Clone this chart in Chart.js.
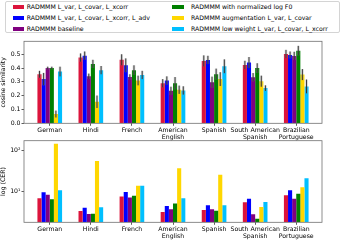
<!DOCTYPE html>
<html><head><meta charset="utf-8">
<script src="https://cdn.jsdelivr.net/npm/chart.js@4/dist/chart.umd.min.js"></script>
<style>
html,body{margin:0;padding:0;width:344px;height:240px;overflow:hidden;background:#fff;font-family:"DejaVu Sans";}
#legend{position:absolute;left:5px;top:1px;width:335px;height:32px;border:1px solid #d4d4d4;border-radius:2px;box-sizing:border-box;}
.lt{position:absolute;font-size:6.2px;line-height:8px;white-space:nowrap;color:#000;transform:translateY(-50%);}
.sw{position:absolute;width:11.5px;height:4px;transform:translateY(-50%);}
canvas{position:absolute;left:0;}
</style></head><body>
<div id="legend"></div>
<canvas id="c1" width="344" height="110" style="top:34px"></canvas>
<canvas id="c2" width="344" height="104" style="top:136px"></canvas>
<script>
const categories = ['German','Hindi','French',['American','English'],'Spanish',['South American','Spanish'],['Brazilian','Portuguese']];
const seriesLabels = ['RADMMM L_var, L_covar, L_xcorr','RADMMM L_var, L_covar, L_xcorr, L_adv','RADMMM baseline','RADMMM with normalized log F0','RADMMM augmentation L_var, L_covar','RADMMM low weight L_var, L_covar, L_xcorr'];
const seriesColors = ['#DC143C','#0000FF','#800080','#008000','#FFD700','#00BFFF'];

const cosRed    = [0.355,0.476,0.46,0.29,0.452,0.423,0.502];
const cosBlue   = [0.32,0.49,0.42,0.31,0.459,0.44,0.495];
const cosPurple = [0.40,0.34,0.335,0.235,0.298,0.334,0.488];
const cosGreen  = [0.40,0.43,0.385,0.29,0.356,0.40,0.526];
const cosYellow = [0.067,0.156,0.31,0.243,0.32,0.305,0.353];
const cosCyan   = [0.375,0.385,0.35,0.238,0.413,0.255,0.267];

const errRed    = [0.025,0.03,0.04,0.03,0.04,0.03,0.03];
const errBlue   = [0.045,0.03,0.05,0.03,0.03,0.04,0.025];
const errPurple = [0.01,0.02,0.02,0.03,0.04,0.03,0.03];
const errGreen  = [0.01,0.03,0.035,0.045,0.04,0.035,0.035];
const errYellow = [0.025,0.045,0.035,0.03,0.05,0.04,0.04];
const errCyan   = [0.035,0.03,0.03,0.03,0.05,0.02,0.05];

const cerRed    = [6.7,3.25,7.4,3.1,3.45,5.3,7.85];
const cerBlue   = [9.3,3.9,9.5,4.3,4.5,6.5,10.4];
const cerPurple = [8.1,2.75,7.0,3.6,3.6,2.7,6.5];
const cerGreen  = [6.3,2.8,7.7,5.0,3.3,2.1,8.6];
const cerYellow = [142,54,13.5,36,25,4.1,12.3];
const cerCyan   = [10.4,4.0,13.5,6.65,4.5,5.4,20.4];

const cosTicks = [0.0,0.1,0.2,0.3,0.4,0.5];
const cerTicks = [10,100];
const cerTickLabels = ['10\u00B9','10\u00B2'];

const cosSeries = [cosRed,cosBlue,cosPurple,cosGreen,cosYellow,cosCyan];
const errSeries = [errRed,errBlue,errPurple,errGreen,errYellow,errCyan];
const cerSeries = [cerRed,cerBlue,cerPurple,cerGreen,cerYellow,cerCyan];

// legend (column-major, 3 rows)
const leg = document.getElementById('legend');
const rowsY = [5.3,16,26.7];
seriesLabels.forEach((lab,i)=>{
  const col = Math.floor(i/3), row = i%3;
  const sw = document.createElement('div'); sw.className='sw';
  sw.style.left = (col? 166.3 : 6.7)+'px'; sw.style.top = rowsY[row]+'px'; sw.style.background = seriesColors[i];
  const t = document.createElement('div'); t.className='lt';
  t.style.left = (col? 185 : 20.7)+'px'; t.style.top = rowsY[row]+'px'; t.textContent = lab;
  leg.appendChild(sw); leg.appendChild(t);
});

const FONT = {family:'DejaVu Sans', size:6.2, lineHeight:1.1};
Chart.defaults.font.family = 'DejaVu Sans';
Chart.defaults.color = '#000';

const framePlugin = {
  id:'frame',
  afterDatasetsDraw(chart){
    const a = chart.chartArea, ctx = chart.ctx;
    ctx.save(); ctx.strokeStyle = '#707070'; ctx.lineWidth = 0.8;
    ctx.strokeRect(a.left, a.top, a.right-a.left, a.bottom-a.top);
    ctx.restore();
  }
};
const errPlugin = {
  id:'errbars',
  afterDatasetsDraw(chart){
    const ctx = chart.ctx, ys = chart.scales.y;
    chart.data.datasets.forEach((ds,di)=>{
      if(!ds.errors) return;
      const meta = chart.getDatasetMeta(di);
      meta.data.forEach((el,i)=>{
        const v = ds.data[i].y, e = ds.errors[i];
        const y1 = ys.getPixelForValue(v+e), y0 = ys.getPixelForValue(v-e);
        ctx.save();
        ctx.strokeStyle='rgba(150,150,150,0.4)'; ctx.lineWidth=2.6;
        ctx.beginPath(); ctx.moveTo(el.x,y0); ctx.lineTo(el.x,y1); ctx.stroke();
        ctx.strokeStyle='#2a2a2a'; ctx.lineWidth=0.9;
        ctx.beginPath(); ctx.moveTo(el.x,y0); ctx.lineTo(el.x,y1); ctx.stroke();
        ctx.restore();
      });
    });
  }
};

function xScale(h){
  return {
    type:'linear', min:-0.627, max:6.627, offset:false,
    afterBuildTicks(s){ s.ticks = categories.map((_,i)=>({value:i})); },
    afterFit(s){ s.height = h; },
    ticks:{ autoSkip:false, maxRotation:0, minRotation:0, padding:1, font:FONT, color:'#000',
      callback:(v)=>categories[v] },
    grid:{ offset:false, drawOnChartArea:false, drawTicks:true, tickLength:2.5, color:'#333', lineWidth:0.8 },
    border:{ display:false }
  };
}

function makeDatasets(series, withErr){
  return series.map((vals,i)=>({
    label: seriesLabels[i],
    data: vals.map((v,j)=>({x:j, y:v})),
    backgroundColor: seriesColors[i],
    borderWidth:0,
    errors: withErr ? errSeries[i] : null,
    categoryPercentage:0.6, barPercentage:1.0
  }));
}

new Chart(document.getElementById('c1'), {
  type:'bar',
  data:{ datasets: makeDatasets(cosSeries, true) },
  options:{
    responsive:false, animation:false, events:[],
    layout:{ padding:{ top:7.3, right:22, left:0, bottom:0 } },
    plugins:{ legend:{display:false}, tooltip:{enabled:false} },
    scales:{
      x: xScale(20.7),
      y:{
        min:0, max:0.594,
        afterBuildTicks(s){ s.ticks = cosTicks.map(v=>({value:v})); },
        afterFit(s){ s.width = 24; },
        ticks:{ font:FONT, padding:1, color:'#000', callback:(v)=>v.toFixed(1) },
        grid:{ drawOnChartArea:false, drawTicks:true, tickLength:2.5, color:'#333', lineWidth:0.8 },
        border:{ display:false },
        title:{ display:true, text:'cosine similarity', font:FONT, padding:{top:0,bottom:0}, color:'#000' }
      }
    }
  },
  plugins:[framePlugin, errPlugin]
});

new Chart(document.getElementById('c2'), {
  type:'bar',
  data:{ datasets: makeDatasets(cerSeries, false) },
  options:{
    responsive:false, animation:false, events:[],
    layout:{ padding:{ top:4.7, right:22, left:0, bottom:0 } },
    plugins:{ legend:{display:false}, tooltip:{enabled:false} },
    scales:{
      x: xScale(17.7),
      y:{
        type:'logarithmic', min:1.73, max:169,
        afterBuildTicks(s){ s.ticks = cerTicks.map(v=>({value:v})); },
        afterFit(s){ s.width = 24; },
        ticks:{ font:FONT, padding:1, color:'#000', callback:(v)=>{ const k = cerTicks.indexOf(v); return k>=0 ? cerTickLabels[k] : ''; } },
        grid:{ drawOnChartArea:false, drawTicks:true, tickLength:2.5, color:'#333', lineWidth:0.8 },
        border:{ display:false },
        title:{ display:true, text:'log (CER)', font:FONT, padding:{top:0,bottom:0}, color:'#000' }
      }
    }
  },
  plugins:[framePlugin]
});
</script>
</body></html>
